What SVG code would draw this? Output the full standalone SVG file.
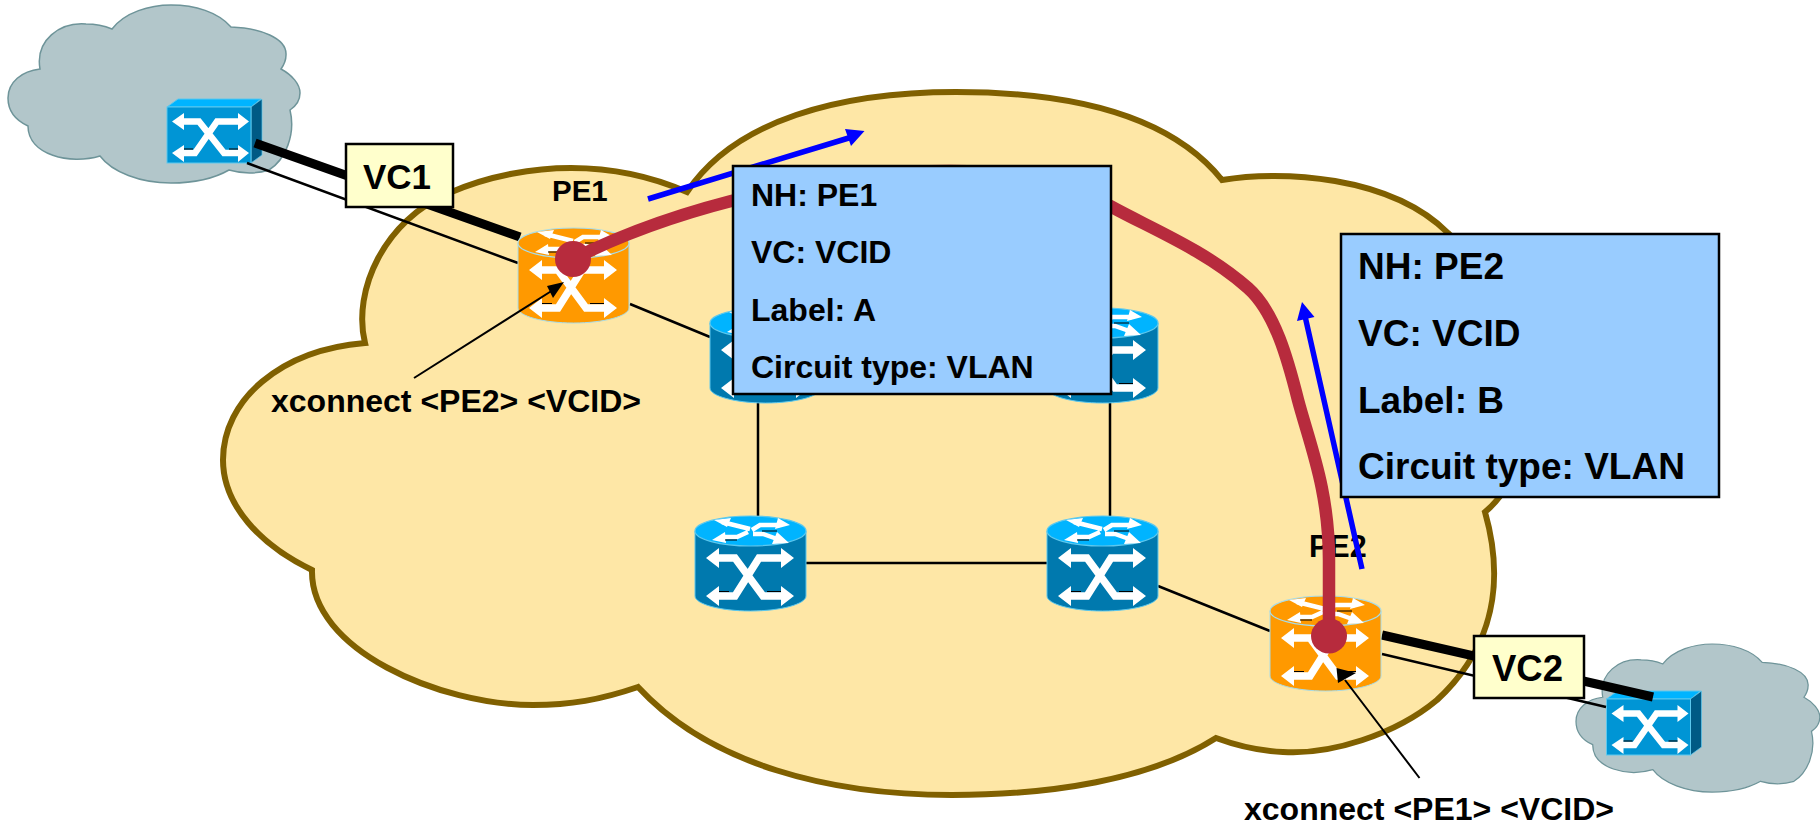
<svg xmlns="http://www.w3.org/2000/svg" width="1820" height="826" viewBox="0 0 1820 826">
<style>
text{font-family:"Liberation Sans",Arial,sans-serif;font-weight:bold;fill:#000}
.blue{--body:#0079AE;--top:#00B4FF;--edge:#5CC8EE}
.orange{--body:#FF9900;--top:#FF9900;--edge:#A8DCE8}
.body{fill:var(--body);stroke:var(--edge);stroke-width:1}
.top{fill:var(--top);stroke:var(--edge);stroke-width:1.2}
.wl{fill:none;stroke:#fff;stroke-width:7.5;stroke-linejoin:miter}
.wt{fill:none;stroke:#fff;stroke-width:4.5}
.sh{fill:none;stroke:#000;stroke-width:1}
.wh{fill:#fff}
.thin{stroke:#000;stroke-width:2.5;fill:none}
.thick{stroke:#000;stroke-width:9;fill:none}
.note{stroke:#000;stroke-width:2;fill:none}
.red{stroke:#B72B3D;stroke-width:12.5;fill:none}
.dot{fill:#B72B3D}
.bl{stroke:#0000FF;stroke-width:5.5;fill:none}
.blh{fill:#0000FF}
.lbl{fill:#FFFFCC;stroke:#000;stroke-width:2.5}
.info{fill:#99CCFF;stroke:#000;stroke-width:2.5}
.grey{fill:#B2C6CA;stroke:#6E9499;stroke-width:1.5}
</style>
<defs>
<path id="greyCloud" class="grey" d="M112 29C125 12 150 5 171 5C195 5 218 12 231 27C260 28 287 38 286 55Q286 62 281 69C292 75 300 84 300 93C300 100 296 106 290 110C296 135 285 160 269 170Q250 176 229 170C215 178 195 183 171 183C140 183 112 172 100 156C70 165 28 155 28 126C15 120 8 110 8 98C8 82 22 71 40 69C35 40 60 22 86 24Q100 24 112 29Z"/>
<g id="router">
<path class="body" d="M0 15V80C0 88 25 95 55.5 95S111 88 111 80V15Z"/>
<ellipse class="top" cx="55.5" cy="15" rx="55.5" ry="15"/>
<path class="wt" d="M27 6L55 13M57 14L65 9H85M53 16L42 21H26M58 18H68L85 24"/>
<path class="wh" d="M19 4L36 2L32 11ZM95 9L83 2L80 13ZM17 24L30 16L31 27ZM94 27L77 28L82 16Z"/>
<path class="sh" d="M30 24H42M67 15H82"/>
<path class="wl" d="M23 42H40L68 80H87M87 42H64L40 80H23"/>
<path class="wh" d="M11 42L24 32V52ZM99 42L86 32V52ZM11 80L24 70V90ZM99 80L86 70V90Z"/>
<path class="sh" d="M24 75.500H34M72 75.500H86"/>
</g>
<g id="switch">
<path fill="#00B4FF" stroke="#5CC8EE" d="M0 0L11 -8H94L84 0Z"/>
<path fill="#005A85" stroke="#5CC8EE" stroke-width=".7" d="M84 0L95 -8V48L84 56Z"/>
<rect width="84" height="56" fill="#0095D5" stroke="#5CC8EE"/>
<path class="wl" style="stroke-width:6.500" d="M16 14.500H32L57 46H72M72 14.500H50L28 46H16"/>
<path class="wh" d="M5 14.500L17 6V23ZM82 14.500L71 6V23ZM5 46L17 38V55ZM82 46L71 38V55Z"/>
<path class="sh" d="M17 42H26M62 42H71"/>
</g>
</defs>

<g id="cloud-customer-1"><use href="#greyCloud"/></g>
<g id="cloud-customer-2"><use href="#greyCloud" transform="translate(1576 644) scale(.835 .832) translate(-8 -5)"/></g>
<g id="cloud-provider">
<path fill="#FEE7A6" stroke="#806000" stroke-width="6" d="M687 192C735 120 840 92 956 92C1070 92 1170 115 1222 180C1280 170 1390 175 1448 233C1510 290 1560 450 1485 512C1510 600 1480 660 1437 700C1395 735 1330 755 1283 752C1260 751 1235 745 1216 738C1150 780 1050 795 952 795C830 795 710 765 638 687C600 700 570 705 533 705C440 705 310 650 312 570C260 545 223 505 223 460C223 400 280 350 365 343C352 290 385 220 449 193C490 175 535 168 571 168C615 168 655 178 687 192Z"/>
</g>

<g id="switch-1"><use href="#switch" x="167" y="107"/></g>
<g id="switch-2"><use href="#switch" x="1606.500" y="699"/></g>
<g id="connectors">
<path class="thick" d="M255 143L520 237M1382 635L1653 697"/>
<path class="thin" d="M247 163L518 263M630 304L710 337M758 394V516M1110 394V516M806 563H1047M1158 586L1270 631M1382 654L1606 707"/>
</g>

<g id="router-pe1"><use href="#router" class="orange" x="518" y="228"/></g>
<g id="router-p1"><use href="#router" class="blue" x="710" y="308"/></g>
<g id="router-p2"><use href="#router" class="blue" x="1047" y="308"/></g>
<g id="router-p3"><use href="#router" class="blue" x="695" y="516"/></g>
<g id="router-p4"><use href="#router" class="blue" x="1047" y="516"/></g>
<g id="router-pe2"><use href="#router" class="orange" x="1270" y="596"/></g>

<g id="label-pe1"><text x="552" y="201" font-size="29.500">PE1</text></g>
<g id="label-pe2"><text x="1309" y="557" font-size="30.500">PE2</text></g>

<g id="pseudowire">
<path class="red" d="M573 259C680 205 830 171 950 171C1000 171 1060 177 1112 207C1150 228 1205 250 1248 288C1275 312 1288 360 1298 400C1310 445 1329 490 1329 560V636"/>
<ellipse class="dot" cx="573" cy="259" rx="18" ry="18"/>
<ellipse class="dot" cx="1329" cy="636" rx="18" ry="17.500"/>
</g>
<g id="signalling">
<path class="bl" d="M648 199L852 137M1362 569L1305 316"/>
<path class="blh" d="M864.500 131L845 129L851 146ZM1302 302L1297 321L1314.500 317Z"/>
</g>
<g id="callouts">
<path class="note" d="M414 378L553 290M1419.500 778L1345 680"/>
<path d="M564 282L547 286L553 298Z"/>
<path d="M1336.500 668L1338 683L1356 673Z"/>
<text x="271" y="412" font-size="32">xconnect &lt;PE2&gt; &lt;VCID&gt;</text>
<text x="1244" y="820" font-size="32">xconnect &lt;PE1&gt; &lt;VCID&gt;</text>
</g>
<g id="vc1"><rect class="lbl" x="346" y="144" width="107" height="63"/><text x="363" y="189" font-size="35">VC1</text></g>
<g id="vc2"><rect class="lbl" x="1474" y="636" width="110" height="62"/><text x="1492" y="681" font-size="36.500">VC2</text></g>
<g id="info-pe1">
<rect class="info" x="733" y="166" width="378" height="228"/>
<text x="751" y="206" font-size="32">NH: PE1</text>
<text x="751" y="263" font-size="32">VC: VCID</text>
<text x="751" y="321" font-size="32">Label: A</text>
<text x="751" y="378" font-size="32">Circuit type: VLAN</text>
</g>
<g id="info-pe2">
<rect class="info" x="1341" y="234" width="378" height="263"/>
<text x="1358" y="279" font-size="37">NH: PE2</text>
<text x="1358" y="346" font-size="37">VC: VCID</text>
<text x="1358" y="413" font-size="37">Label: B</text>
<text x="1358" y="479" font-size="37">Circuit type: VLAN</text>
</g>
</svg>
